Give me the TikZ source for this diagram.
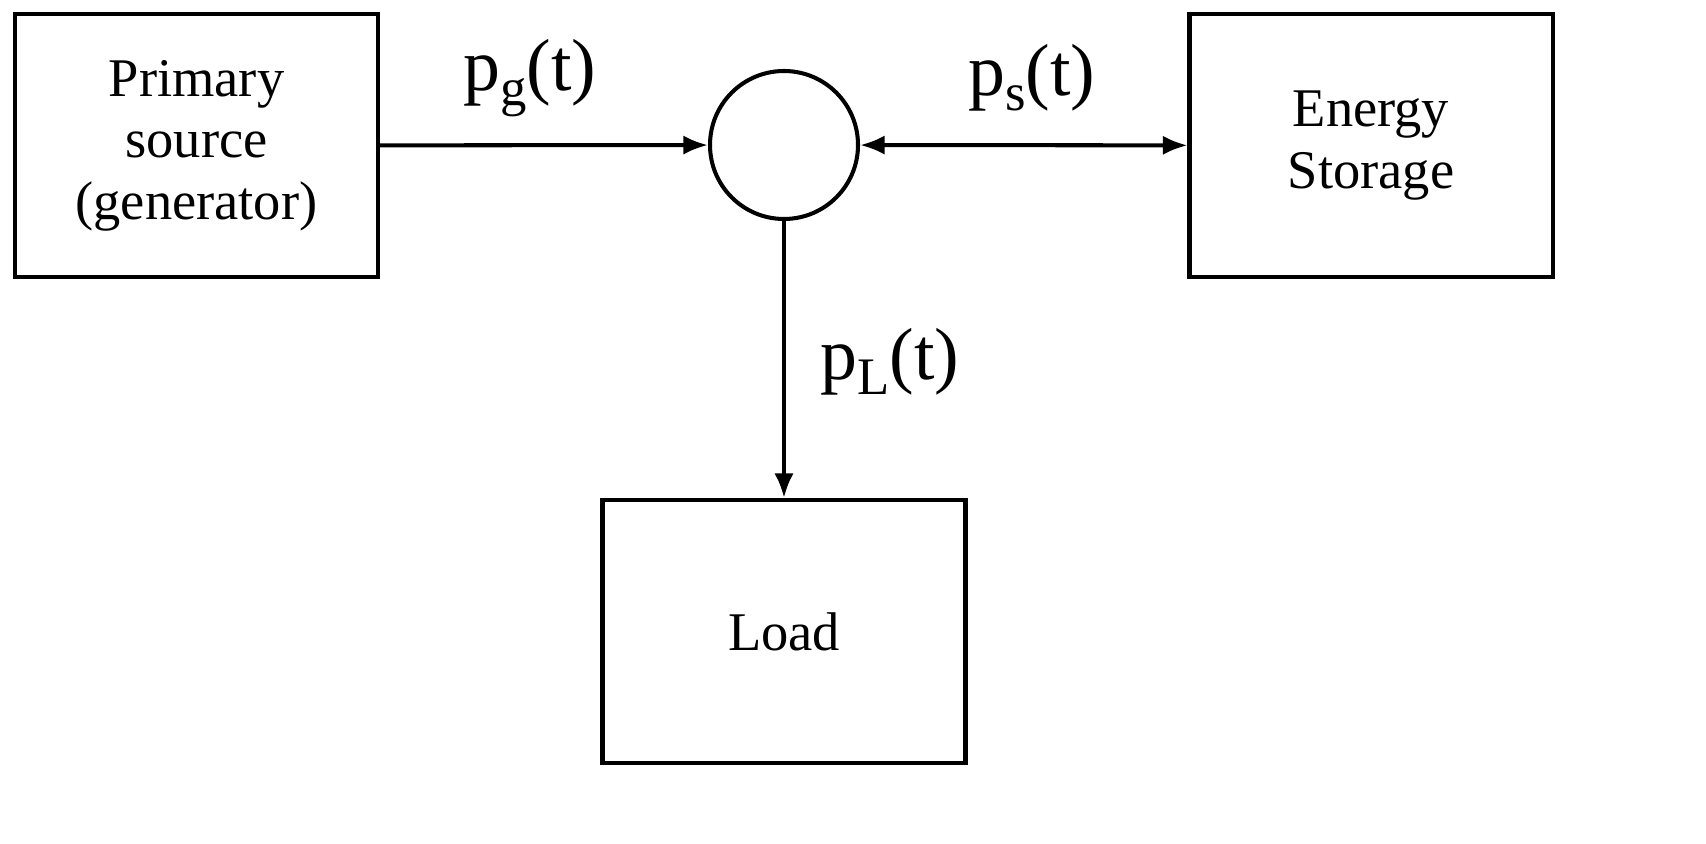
\documentclass[tikz,border=0pt]{standalone}
\usepackage{fontspec}
\setmainfont{Liberation Serif}
\usetikzlibrary{arrows.meta}
\newcommand{\mysub}[1]{\raisebox{-0.45ex}{\fontsize{30}{32}\selectfont #1}}
\begin{document}
\begin{tikzpicture}[x=0.02cm,y=-0.02cm,
  box/.style={draw,line width=2.3pt,minimum width=363*0.02cm,minimum height=263*0.02cm,align=center,font=\fontsize{31}{35}\selectfont},
  lbl/.style={font=\fontsize{42}{46}\selectfont},
  arr/.style={line width=2.3pt,-{Latex[length=14pt,width=11pt]}}]
\useasboundingbox (0,0) rectangle (1706,844);
\node[box] (ps) at (196.5,145.5) {Primary\\source\\(generator)};
\node[box] (es) at (1371,145.5) {Energy\\Storage};
\node[box] (ld) at (784,631.5) {Load};
\node[draw,circle,line width=2.3pt,minimum size=148*0.02cm,inner sep=0] (c) at (784,145) {};
\draw[arr] (ps) -- (c);
\draw[arr,{Latex[length=14pt,width=11pt]}-{Latex[length=14pt,width=11pt]}] (c) -- (es);
\draw[arr] (c) -- (ld);
\node[lbl] (lg) at (530,78) {p\mysub{g}(t)};
\node[lbl] (ls) at (1032,78) {p\mysub{s}(t)};
\node[lbl] (lL) at (890,362) {p\mysub{L}(t)};
\end{tikzpicture}
\end{document}
